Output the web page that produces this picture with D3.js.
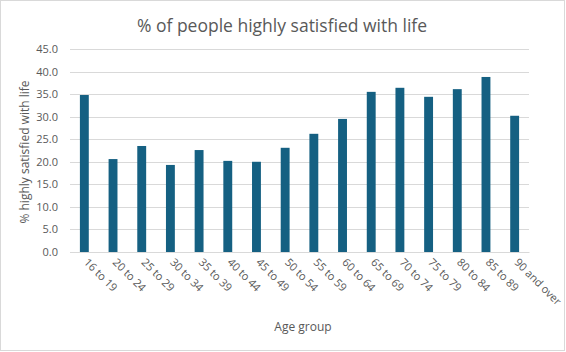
<!DOCTYPE html>
<html>
<head>
<meta charset="utf-8">
<script src="https://cdn.jsdelivr.net/npm/d3@7"></script>
<style>
html,body{margin:0;padding:0;background:#fff;}
svg{display:block;font-family:"Open Sans","Liberation Sans",sans-serif;}
</style>
</head>
<body>
<svg id="chart" width="566" height="352"></svg>
<script>
const categories = ["16 to 19","20 to 24","25 to 29","30 to 34","35 to 39","40 to 44","45 to 49","50 to 54","55 to 59","60 to 64","65 to 69","70 to 74","75 to 79","80 to 84","85 to 89","90 and over"];
const values = [34.8, 20.6, 23.5, 19.3, 22.6, 20.2, 20.0, 23.1, 26.2, 29.5, 35.5, 36.4, 34.4, 36.1, 38.8, 30.2];
const yTicks = [0,5,10,15,20,25,30,35,40,45];
const title = "% of people highly satisfied with life";
const yTitle = "% highly satisfied with life";
const xTitle = "Age group";

const svg = d3.select("#chart");

svg.append("rect").attr("x",0.5).attr("y",0.5).attr("width",564).attr("height",350)
  .attr("fill","#fff").attr("stroke","#d9d9d9").attr("stroke-width",1);

const x = d3.scaleBand().domain(categories).range([70, 529]).paddingInner(0.69).paddingOuter(0.345);
const y = d3.scaleLinear().domain([0,45]).range([252, 49]);

// gridlines
svg.append("g").selectAll("line").data(yTicks).join("line")
  .attr("x1",70).attr("x2",529)
  .attr("y1",d=>Math.round(y(d))+0.5).attr("y2",d=>Math.round(y(d))+0.5)
  .attr("stroke","#d9d9d9").attr("stroke-width",1);

// bars
svg.append("g").selectAll("rect").data(values).join("rect")
  .attr("x",(d,i)=>x(categories[i]))
  .attr("width",x.bandwidth())
  .attr("y",d=>y(d))
  .attr("height",d=>y(0)-y(d))
  .attr("fill","#156082");

// y axis labels
const yAxis = d3.axisLeft(y).tickValues(yTicks).tickFormat(d3.format(".1f")).tickSize(0).tickPadding(0);
const gy = svg.append("g").attr("transform","translate(58,0)").call(yAxis);
gy.select(".domain").remove();
gy.selectAll("text").attr("fill","#595959").style("font-size","11px").style("font-family","'Open Sans','Liberation Sans',sans-serif");

// x axis
const xAxis = d3.axisBottom(x).tickSize(0).tickPadding(0);
const gx = svg.append("g").attr("transform","translate(0,252)").call(xAxis);
gx.select(".domain").attr("stroke","#d9d9d9");
gx.selectAll("text")
  .attr("fill","#595959").style("font-size","11px").style("font-family","'Open Sans','Liberation Sans',sans-serif")
  .attr("text-anchor","start").attr("dy",null).attr("y",0)
  .attr("transform","translate(-1,11) rotate(45)");

// titles
svg.append("text").attr("x",282).attr("y",32).attr("text-anchor","middle")
  .attr("fill","#595959").style("font-size","17.5px").text(title);
svg.append("text").attr("transform","translate(29,152) rotate(-90)").attr("text-anchor","middle")
  .attr("fill","#595959").style("font-size","12px").text(yTitle);
svg.append("text").attr("x",303).attr("y",331).attr("text-anchor","middle")
  .attr("fill","#595959").style("font-size","12px").text(xTitle);
</script>
</body>
</html>
